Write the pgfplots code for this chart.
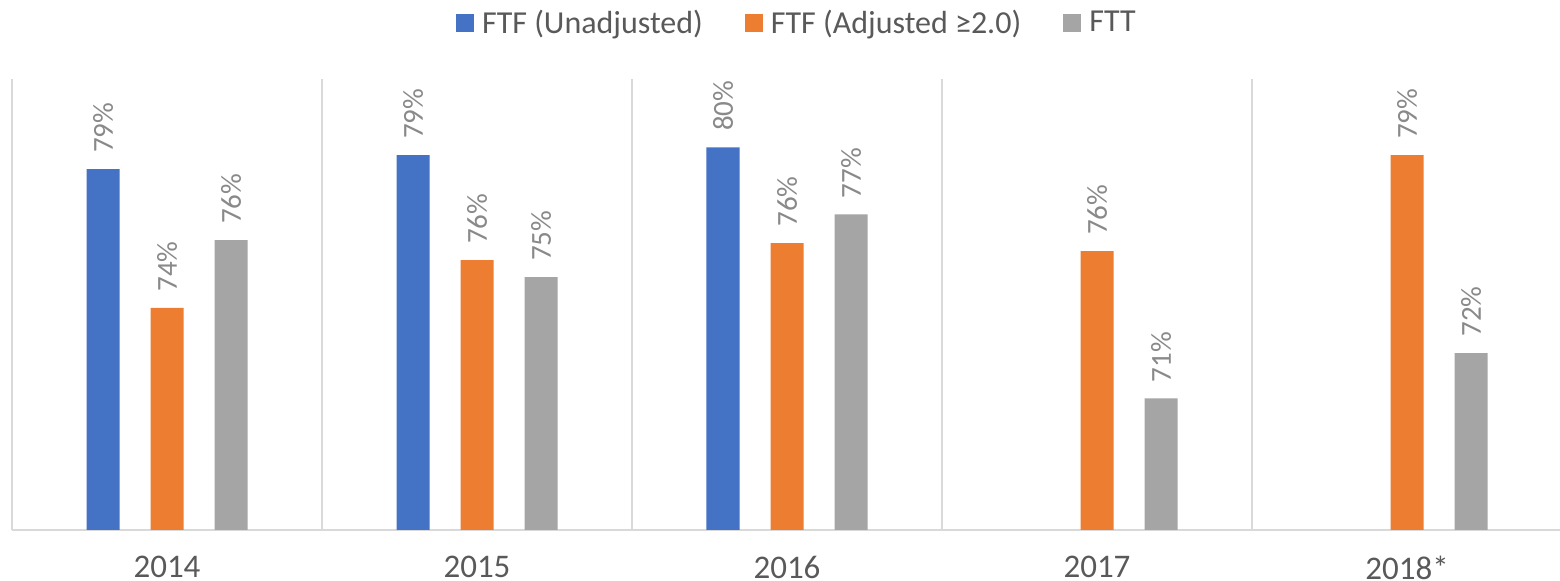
\documentclass[border=0pt]{standalone}
\usepackage{fontspec}
\setmainfont{Carlito}
\usepackage{pgfplots}
\pgfplotsset{compat=1.18}
\usepackage{pgfplotstable}
\definecolor{cblue}{HTML}{4472C4}
\definecolor{corange}{HTML}{ED7D31}
\definecolor{cgray}{HTML}{A5A5A5}
\definecolor{gridc}{HTML}{D9D9D9}
\definecolor{txt}{HTML}{595959}
\definecolor{lbl}{HTML}{898989}

\pgfplotstableread{
x y lab
0 78.82 79
1 79.32 79
2 79.60 80
}\blueT
\pgfplotstableread{
x y lab
0 73.86 74
1 75.57 76
2 76.18 76
3 75.89 76
4 79.32 79
}\orangeT
\pgfplotstableread{
x y lab
0 76.28 76
1 74.96 75
2 77.20 77
3 70.63 71
4 72.25 72
}\grayT

\begin{document}
\begin{tikzpicture}
\useasboundingbox (0,0) rectangle (780pt,290.5pt);
\begin{axis}[
 at={(6pt,25.5pt)}, anchor=south west,
 scale only axis, width=775pt, height=225.5pt,
 xmin=-0.5, xmax=4.5, ymin=65.93, ymax=82.04,
 ybar, bar width=16.5pt,
 axis y line=none,
 axis x line*=bottom,
 x axis line style={draw=gridc, line width=1pt, -},
 xtick={0,1,2,3,4},
 xticklabels={2014,2015,2016,2017,2018*},
 major tick length=0pt,
 minor xtick={-0.5,0.5,1.5,2.5,3.5},
 minor tick length=0pt,
 xminorgrids, minor grid style={draw=gridc, line width=0.75pt},
 xticklabel style={font=\fontsize{16.5}{18}\selectfont, text=txt, inner sep=0pt, yshift=-12.8pt},
 point meta=explicit symbolic,
 nodes near coords={\pgfplotspointmeta\%},
 every node near coord/.append style={rotate=90, anchor=west, inner xsep=8pt, inner ysep=0pt, font=\fontsize{14.5}{16}\selectfont, text=lbl},
 legend columns=-1,
 legend image code/.code={\fill[#1] (0pt,-4.5pt) rectangle (9pt,4.5pt); \path (13pt,0pt);},
 legend style={draw=none, fill=none, at={(axis description cs:0.2865,1.1242)}, anchor=west, inner sep=0pt, outer sep=0pt, nodes={inner sep=0pt, text=txt, font=\fontsize{16}{18}\selectfont}, /tikz/every even column/.append style={column sep=21pt}},
 clip=false,
]
\addplot[fill=cblue, draw=none, bar shift=-32pt] table[x=x, y=y, meta=lab]{\blueT};
\addplot[fill=corange, draw=none, bar shift=0pt] table[x=x, y=y, meta=lab]{\orangeT};
\addplot[fill=cgray, draw=none, bar shift=32pt] table[x=x, y=y, meta=lab]{\grayT};
\legend{FTF (Unadjusted), FTF (Adjusted ≥2.0), FTT}
\end{axis}
\end{tikzpicture}
\end{document}
